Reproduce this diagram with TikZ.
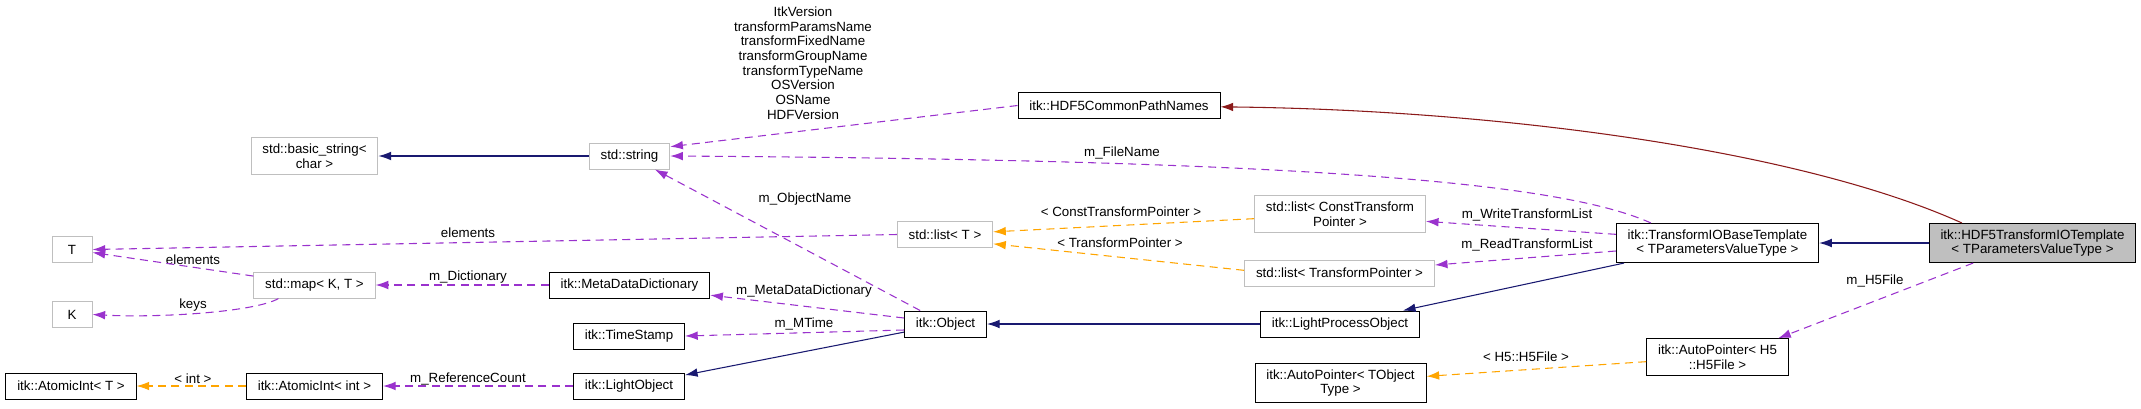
\documentclass[tikz,border=0pt]{standalone}
\usepackage{fontspec}
\setmainfont{Liberation Sans}
\usepackage{tikz}
\usetikzlibrary{arrows.meta}
\definecolor{inhblue}{HTML}{191970}
\definecolor{usepurple}{HTML}{9A32CD}
\definecolor{tplorange}{HTML}{FFA500}
\definecolor{frndred}{HTML}{8B1A1A}
\definecolor{undocgray}{HTML}{BFBFBF}
\newcommand\dfont{\fontsize{10}{11}\selectfont}

\begin{document}
\begin{tikzpicture}[x=0.75pt,y=-0.75pt,font=\dfont,align=center,
        >={Latex[length=9.5pt,width=6.5pt]},
        inherit/.style={->,draw=inhblue,line width=0.8pt},
        member/.style={->,draw=usepurple,line width=0.8pt,dash pattern=on 6pt off 4pt},
        tmpl/.style={->,draw=tplorange,line width=0.8pt,dash pattern=on 6pt off 4pt}]%
        \useasboundingbox (0,0) rectangle (2141,408);%%
        %\draw[step=10,color=gray,very thin] (0,0) grid (2141,408);%%
        \begin{scope}[shape=rectangle,inner xsep=8.5pt,inner ysep=4.5pt,minimum width=30pt,minimum height=19.5pt]
        \tikzstyle{every node}=[draw=undocgray,fill=white,line width=0.75pt] %%
        \node (bstr) at (314.5,156)  {std::basic\_string<\\char >}; %%
        \node (str) at (629.5,156)  {std::string}; %%
        \node (T) at (72,249.5)  {T}; %%
        \node (K) at (72,314.5)  {K}; %%
        \node (map) at (314.5,285)  {std::map< K, T >}; %%
        \node (lst) at (945,234.5)  {std::list< T >}; %%
        \node (lstc) at (1340,214)  {std::list< ConstTransform\\Pointer >}; %%
        \node (lstp) at (1339.5,273)  {std::list< TransformPointer >}; %%
        \end{scope}
        \begin{scope}[shape=rectangle,inner xsep=8.5pt,inner ysep=4.5pt,minimum width=30pt,minimum height=19.5pt]
        \tikzstyle{every node}=[draw=black,fill=white,line width=0.75pt] %%
        \node (cpn) at (1119,105.5)  {itk::HDF5CommonPathNames}; %%
        \node (mdd) at (629.5,285)  {itk::MetaDataDictionary}; %%
        \node (ts) at (629,336)  {itk::TimeStamp}; %%
        \node (ait) at (71,386)  {itk::AtomicInt< T >}; %%
        \node (aii) at (314.5,386)  {itk::AtomicInt< int >}; %%
        \node (lo) at (629,386)  {itk::LightObject}; %%
        \node (obj) at (945.5,324)  {itk::Object}; %%
        \node (lpo) at (1340,324)  {itk::LightProcessObject}; %%
        \node (apt) at (1340.5,383)  {itk::AutoPointer< TObject\\Type >}; %%
        \node (tio) at (1717.5,243)  {itk::TransformIOBaseTemplate\\< TParametersValueType >}; %%
        \node (aph) at (1717.5,357)  {itk::AutoPointer< H5\\::H5File >}; %%
        \node[fill=undocgray] (htio) at (2032.5,243)  {itk::HDF5TransformIOTemplate\\< TParametersValueType >}; %%
        \end{scope}
        % edge labels
        \node (lver) at (803,63)  {ItkVersion\\transformParamsName\\transformFixedName\\transformGroupName\\transformTypeName\\OSVersion\\OSName\\HDFVersion}; %%
        \node (lfile) at (1122,153)  {m\_FileName}; %%
        \node (lobjn) at (805,199)  {m\_ObjectName}; %%
        \node (lelem) at (468,233)  {elements}; %%
        \node (lelemm) at (193,260)  {elements}; %%
        \node (lkeys) at (193,305)  {keys}; %%
        \node (ldict) at (468,277)  {m\_Dictionary}; %%
        \node (lint) at (193,379)  {< int >}; %%
        \node (lref) at (468,379)  {m\_ReferenceCount}; %%
        \node (lmdd) at (804,291)  {m\_MetaDataDictionary}; %%
        \node (lmt) at (804,324)  {m\_MTime}; %%
        \node (lctp) at (1121,212)  {< ConstTransformPointer >}; %%
        \node (ltp) at (1120,243)  {< TransformPointer >}; %%
        \node (lwtl) at (1527,215)  {m\_WriteTransformList}; %%
        \node (lrtl) at (1527,245)  {m\_ReadTransformList}; %%
        \node (lh5) at (1875,281)  {m\_H5File}; %%
        \node (lh5f) at (1526,357)  {< H5::H5File >}; %%
        % connectors
        \draw[inherit] (str)--(bstr); %%
        \draw[member] (cpn.west)--([yshift=7pt]str.east); %%
        \draw[member] ([xshift=-50pt]tio.north) .. controls (1560,182) and (1300,160) .. (str.east); %%
        \draw[member] (obj)--(str); %%
        \draw[member] (lst.west)--(T.east); %%
        \draw[member] (map)--(T); %%
        \draw[member] ([xshift=-27pt]map.south) .. controls (255,312) and (160,318) .. (K.east); %%
        \draw[member] (mdd.west)--(map.east); %%
        \draw[member] ([yshift=4.5pt]obj.west)--([yshift=2.5pt]mdd.south east); %%
        \draw[member] ([yshift=-4.5pt]obj.west)--(ts.east); %%
        \draw[inherit] (obj)--(lo); %%
        \draw[member] (lo.west)--(aii.east); %%
        \draw[tmpl] (aii.west)--(ait.east); %%
        \draw[tmpl] ([yshift=-3.5pt]lstc.west)--([yshift=2pt]lst.east); %%
        \draw[tmpl] ([yshift=2pt]lstp.west)--([yshift=-7pt]lst.east); %%
        \draw[inherit] (lpo)--(obj); %%
        \draw[inherit] (tio)--(lpo); %%
        \draw[member] ([yshift=6.5pt]tio.west)--([yshift=-5.5pt]lstc.east); %%
        \draw[member] ([yshift=-6pt]tio.west)--([yshift=6pt]lstp.east); %%
        \draw[inherit] (htio)--(tio); %%
        \draw[->,draw=frndred,line width=0.8pt] ([xshift=-53pt]htio.north) .. controls (1800,150) and (1500,110) .. ([yshift=-1pt]cpn.east); %%
        \draw[member] ([xshift=-44.5pt]htio.south)--([xshift=-8pt]aph.north east); %%
        \draw[tmpl] ([yshift=-3.5pt]aph.west)--([yshift=5pt]apt.east); %%
\end{tikzpicture}
\end{document}
